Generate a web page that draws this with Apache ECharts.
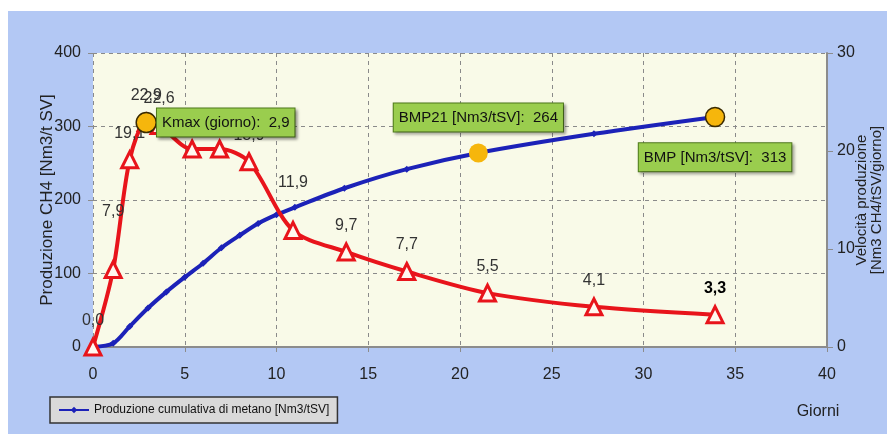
<!DOCTYPE html>
<html>
<head>
<meta charset="utf-8">
<script src="https://cdn.jsdelivr.net/npm/echarts@6/dist/echarts.min.js"></script>
<style>
  html, body { margin: 0; padding: 0; background: #fff; }
  #chart { width: 887px; height: 434px; }
</style>
</head>
<body>
<div id="chart"></div>
<script>
  // produzione cumulativa (asse sinistro)
  const blueDays   = [0, 1.1, 2, 3, 4, 5, 6, 7, 8, 9, 10, 11, 13.7, 17.1, 21, 27.3, 33.9];
  const blueValues = [0, 5, 28, 53, 75, 95, 114, 135, 152, 168, 180, 190, 216, 242, 264, 290, 313];

  // velocita' di produzione (asse destro)
  const redDays   = [0, 1.1, 2, 2.9, 3.6, 5.4, 6.9, 8.5, 10.9, 13.8, 17.1, 21.5, 27.3, 33.9];
  const redValues = [0, 7.9, 19.1, 22.9, 22.6, 20.2, 20.2, 18.9, 11.9, 9.7, 7.7, 5.5, 4.1, 3.3];

  const xTicks = { min: 0, max: 40, interval: 5 };
  const leftTicks = { min: 0, max: 400, interval: 100 };
  const rightTicks = { min: 0, max: 30, interval: 10 };

  const legendName = 'Produzione cumulativa di metano [Nm3/tSV]';
  const bmp21Day = 21;

  const font = "'Liberation Sans Narrow', 'Liberation Sans', Arial, sans-serif";
  const fmt = v => v.toFixed(1).replace('.', ',');

  // etichette spostate a mano piu' in alto (come nel grafico originale)
  const labelLift = { 1: 30, 8: 20 };

  const chart = echarts.init(document.getElementById('chart'));

  // Kmax = giorno di massima velocita'
  let kIdx = 0;
  redValues.forEach((v, i) => { if (v > redValues[kIdx]) kIdx = i; });
  const bIdx = blueDays.indexOf(bmp21Day);
  const lastIdx = blueDays.length - 1;

  const boxLabel = {
    show: true,
    fontFamily: font,
    fontSize: 15,
    color: '#111',
    backgroundColor: '#9acd4e',
    borderColor: '#4f7a1c',
    borderWidth: 1,
    padding: [7, 5, 6, 5],
    shadowColor: 'rgba(0,0,0,0.35)',
    shadowBlur: 3,
    shadowOffsetX: 2,
    shadowOffsetY: 2
  };

  const option = {
    animation: false,
    graphic: [{
      type: 'rect',
      z: -100,
      shape: { x: 8, y: 11, width: 879, height: 423 },
      style: { fill: '#b3c8f4' }
    }],
    grid: {
      left: 93, right: 60, top: 53, bottom: 87,
      outerBoundsMode: 'none',
      containLabel: false,
      show: true,
      backgroundColor: '#f9fae8',
      borderWidth: 0
    },
    legend: {
      data: [legendName],
      left: 50,
      top: 397,
      backgroundColor: '#d9d9d9',
      borderColor: '#333',
      borderWidth: 1.5,
      padding: [7, 8, 7, 8],
      itemWidth: 30,
      itemHeight: 8,
      itemGap: 4,
      textStyle: { fontFamily: font, fontSize: 12, color: '#111' }
    },
    xAxis: {
      type: 'value',
      min: xTicks.min, max: xTicks.max, interval: xTicks.interval,
      name: 'Giorni',
      nameLocation: 'end',
      nameGap: -9,
      nameTextStyle: {
        fontFamily: font, fontSize: 16, color: '#222',
        align: 'center', verticalAlign: 'top', padding: [57, 0, 0, 0]
      },
      axisLine: { lineStyle: { color: '#8c8c8c', width: 2 } },
      axisTick: { show: true, length: 5, lineStyle: { color: '#8c8c8c' } },
      axisLabel: { margin: 20, fontFamily: font, fontSize: 16, color: '#222' },
      splitLine: { show: true, lineStyle: { color: '#8a8a8a', type: [4, 4], width: 1 } }
    },
    yAxis: [
      {
        type: 'value',
        min: leftTicks.min, max: leftTicks.max, interval: leftTicks.interval,
        name: 'Produzione CH4 [Nm3/t SV]',
        nameLocation: 'middle',
        nameGap: 37,
        nameMoveOverlap: false,
        nameTextStyle: { fontFamily: font, fontSize: 17, color: '#222' },
        axisLine: { show: false },
        axisTick: { show: true, length: 5, lineStyle: { color: '#8c8c8c' } },
        axisLabel: { margin: 12, fontFamily: font, fontSize: 16, color: '#222' },
        splitLine: { show: true, lineStyle: { color: '#8a8a8a', type: [4, 4], width: 1 } }
      },
      {
        type: 'value',
        position: 'right',
        min: rightTicks.min, max: rightTicks.max, interval: rightTicks.interval,
        name: 'Velocità produzione\n[Nm3 CH4/tSV/giorno]',
        nameLocation: 'middle',
        nameRotate: 90,
        nameGap: 27,
        nameMoveOverlap: false,
        nameTextStyle: { fontFamily: font, fontSize: 15, color: '#222', lineHeight: 15 },
        axisLine: { show: true, lineStyle: { color: '#8c8c8c', width: 2 } },
        axisTick: { show: true, length: 6, lineStyle: { color: '#8c8c8c' } },
        axisLabel: { margin: 10, fontFamily: font, fontSize: 16, color: '#222' },
        splitLine: { show: false }
      }
    ],
    series: [
      {
        name: legendName,
        type: 'line',
        yAxisIndex: 0,
        smooth: 0.3,
        data: blueDays.map((d, i) => [d, blueValues[i]]),
        symbol: 'diamond',
        symbolSize: 7,
        lineStyle: { color: '#1c22b8', width: 4 },
        itemStyle: { color: '#1c22b8' },
        z: 3
      },
      {
        name: 'Velocità produzione',
        type: 'line',
        yAxisIndex: 1,
        smooth: 0.3,
        data: redDays.map((d, i) => {
          const item = { value: [d, redValues[i]] };
          if (labelLift[i]) item.label = { distance: 10 + labelLift[i] };
          if (i === redDays.length - 1) item.label = { fontWeight: 'bold', color: '#000' };
          return item;
        }),
        symbol: 'triangle',
        symbolSize: 16,
        lineStyle: { color: '#e8141b', width: 4 },
        itemStyle: { color: '#fff8f0', borderColor: '#e8141b', borderWidth: 3 },
        label: {
          show: true,
          position: 'top',
          distance: 9,
          fontFamily: font,
          fontSize: 16,
          color: '#333',
          formatter: p => fmt(p.value[1])
        },
        z: 4
      },
      {
        name: 'Kmax',
        type: 'scatter',
        yAxisIndex: 1,
        symbolSize: 20,
        itemStyle: { color: '#f6b60c', borderColor: '#3a2a00', borderWidth: 1.5, opacity: 1 },
        data: [[redDays[kIdx], redValues[kIdx]]],
        label: Object.assign({}, boxLabel, {
          position: 'right', distance: 0,
          formatter: () => 'Kmax (giorno):  ' + fmt(redDays[kIdx])
        }),
        z: 10
      },
      {
        name: 'BMP21',
        type: 'scatter',
        yAxisIndex: 0,
        symbolSize: 19,
        itemStyle: { color: '#f6b60c', opacity: 1 },
        data: [[blueDays[bIdx], blueValues[bIdx]]],
        label: Object.assign({}, boxLabel, {
          position: 'top', distance: 12,
          formatter: () => 'BMP21 [Nm3/tSV]:  ' + blueValues[bIdx]
        }),
        z: 10
      },
      {
        name: 'BMP',
        type: 'scatter',
        yAxisIndex: 0,
        symbolSize: 19,
        itemStyle: { color: '#f6b60c', borderColor: '#3a2a00', borderWidth: 1.5, opacity: 1 },
        data: [[blueDays[lastIdx], blueValues[lastIdx]]],
        label: Object.assign({}, boxLabel, {
          position: 'bottom', distance: 16,
          formatter: () => 'BMP [Nm3/tSV]:  ' + blueValues[lastIdx]
        }),
        z: 10
      }
    ]
  };

  chart.setOption(option);
</script>
</body>
</html>
